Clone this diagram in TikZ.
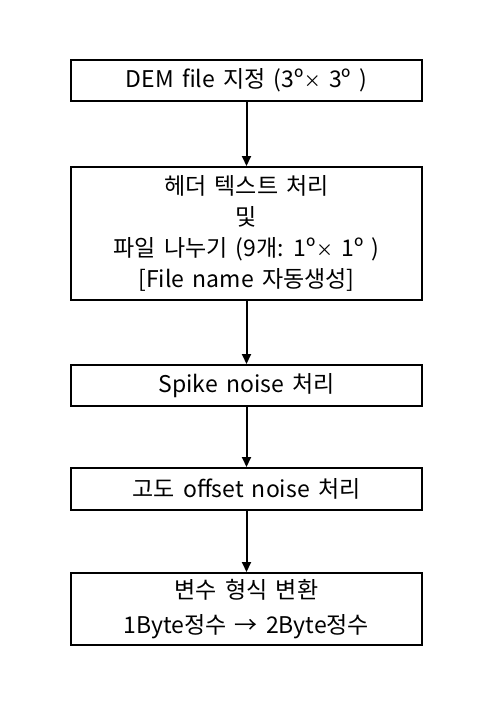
\documentclass[tikz,border=0pt]{standalone}
\usepackage{fontspec}
\setmainfont{Noto Sans CJK KR}[WordSpace=1.6]
\usetikzlibrary{arrows.meta}
\newcommand{\smtimes}{{\fontsize{17}{17}\selectfont ×}}
\begin{document}
\begin{tikzpicture}[x=1pt,y=-1pt,
  stepbox/.style={draw=black,line width=2pt,minimum width=351pt,inner sep=0pt,align=center,font=\fontsize{23}{31}\selectfont},
  flow/.style={line width=2pt,-{Triangle[length=10pt,width=9pt]}}]
\useasboundingbox (0,0) rectangle (478,713);
\node[stepbox,minimum height=41pt] (a) at (246.5,80.5) {DEM file 지정 (3º\smtimes{} 3º )};
\node[stepbox,minimum height=133pt] (b) at (246.5,233.5) {헤더 텍스트 처리\\및\\파일 나누기 (9개: 1º\smtimes{} 1º )\\{}[File name 자동생성]};
\node[stepbox,minimum height=41pt] (c) at (246.5,385.5) {Spike noise 처리};
\node[stepbox,minimum height=42pt] (d) at (246.5,489) {고도 offset noise 처리};
\node[stepbox,minimum height=72pt,font=\fontsize{23}{35}\selectfont] (e) at (246.5,609) {변수 형식 변환\\1Byte정수 → 2Byte정수};
\draw[flow] (a) -- (b);
\draw[flow] (b) -- (c);
\draw[flow] (c) -- (d);
\draw[flow] (d) -- (e);
\end{tikzpicture}
\end{document}
